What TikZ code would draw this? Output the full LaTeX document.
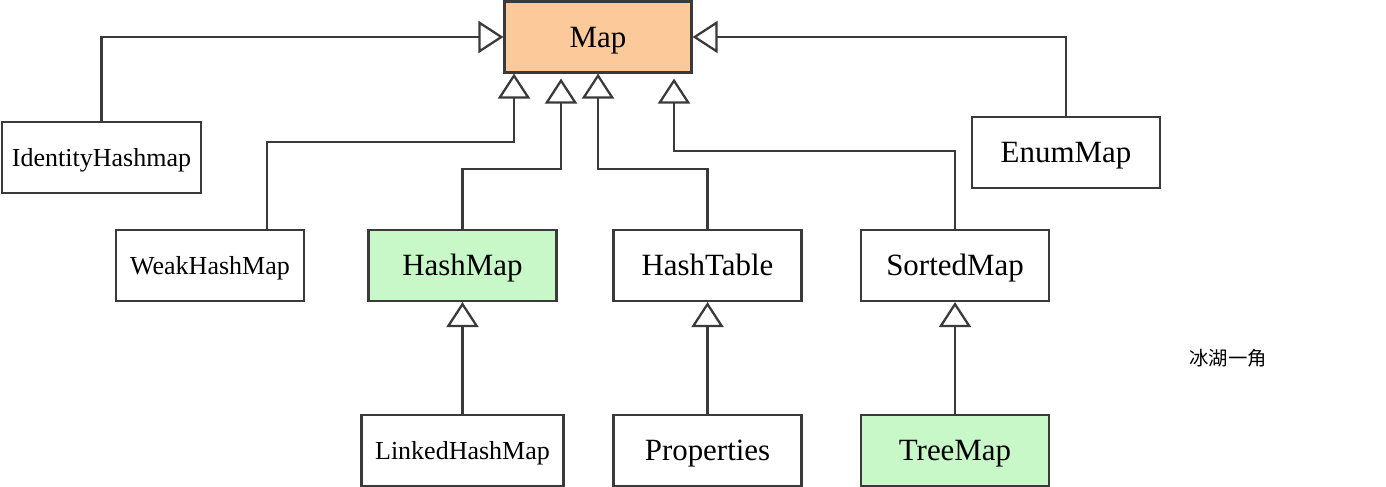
\documentclass[tikz,border=0pt]{standalone}
\usepackage{fontspec}
\setmainfont{Liberation Serif}
\newfontfamily\cjk{Noto Sans CJK SC}
\usetikzlibrary{arrows.meta, positioning}

\definecolor{mapfill}{HTML}{FCC99B}
\definecolor{implfill}{HTML}{C8F7C8}
\definecolor{edge}{HTML}{3A3A3A}

\begin{document}
\begin{tikzpicture}[
    node distance=2.24cm,
    % Styles
    cls/.style={draw=edge, fill=white, line width=1.2pt, align=center, minimum width=3.76cm, minimum height=1.42cm, text height=11.6pt, text depth=0pt, font=\fontsize{17.6}{20}\selectfont},
    small_cls/.style={cls, text height=9.8pt, font=\fontsize{14.8}{17}\selectfont},
    root_cls/.style={cls, fill=mapfill},
    impl_cls/.style={cls, fill=implfill},
    inherit/.style={-{Triangle[length=0.5cm, width=0.64cm, fill=white]}, line width=1.3pt, edge}
]
    \useasboundingbox (0,0) rectangle (27.72,9.72);

    % 1. ROOT INTERFACE
    \node[root_cls, minimum width=3.74cm] (map) at (11.96,8.98) {Map};

    % 2. SIDE CLASSES
    \node[small_cls, minimum width=3.98cm] (identity) at (2.03,6.57) {IdentityHashmap};
    \node[cls] (enum) at (21.32,6.67) {EnumMap};

    % 3. MIDDLE ROW
    \node[small_cls] (weak) at (4.2,4.41) {WeakHashMap};
    \node[impl_cls] (hashmap) at (9.25,4.41) {HashMap};
    \node[cls] (hashtable) at (14.15,4.41) {HashTable};
    \node[cls] (sorted) at (19.1,4.41) {SortedMap};

    % 4. BOTTOM ROW
    \node[small_cls, minimum width=4.04cm, below=of hashmap] (linked) {LinkedHashMap};
    \node[cls, below=of hashtable] (props) {Properties};
    \node[impl_cls, below=of sorted] (tree) {TreeMap};

    % Watermark
    \node (mark) at (24.56,2.56) {\cjk\fontsize{11}{13}\selectfont 冰湖一角};

    % 5. ARROWS
    \draw[inherit] (identity.north) |- (map.west);
    \draw[inherit] (enum.north) |- (map.east);
    \draw[inherit] ([xshift=1.14cm]weak.north) -- ++(0,1.74) -| ([xshift=-1.68cm]map.south);
    \draw[inherit, shorten >=0.1cm] (hashmap.north) -- ++(0,1.2) -| ([xshift=-0.74cm]map.south);
    \draw[inherit] (hashtable.north) -- ++(0,1.2) -| (map.south);
    \draw[inherit, shorten >=0.1cm] (sorted.north) -- ++(0,1.56) -| ([xshift=1.52cm]map.south);

    % Lower level
    \draw[inherit] (linked) -- (hashmap);
    \draw[inherit] (props) -- (hashtable);
    \draw[inherit] (tree) -- (sorted);

\end{tikzpicture}
\end{document}
